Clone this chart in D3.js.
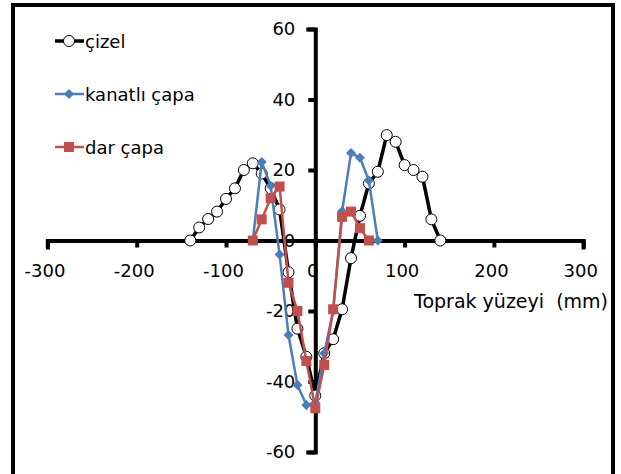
<!DOCTYPE html>
<html>
<head>
<meta charset="utf-8">
<script src="https://cdn.jsdelivr.net/npm/d3@7"></script>
<style>
  html, body { margin: 0; padding: 0; background: #fff; }
  svg { display: block; }
  text { font-family: "DejaVu Sans", sans-serif; fill: #000; }
</style>
</head>
<body>
<svg id="chart" width="621" height="474"></svg>
<script>
// Distance from centre line (mm) and soil surface profile (mm)
const xCizel = [-140, -130, -120, -110, -100, -90, -80, -70, -60, -50, -40, -30, -20, -10, 0, 10, 20, 30, 40, 50, 60, 70, 80, 90, 100, 110, 120, 130, 140];
const cizel  = [0, 3.7, 6.1, 8.2, 11.8, 14.8, 20, 21.9, 19, 14.8, 8.8, -9, -25, -33, -44, -32, -28, -19.5, -5, 7, 16.2, 19.5, 29.9, 28, 21.4, 20, 18.1, 6, 0];

const xKanatli = [-70, -60, -50, -40, -30, -20, -10, 0, 10, 20, 30, 40, 50, 60, 70];
const kanatli  = [0, 22.3, 15.5, -4, -26.8, -41, -46.7, -46, -32, -20, 8.3, 24.8, 23.5, 17, 0];

const xDar = [-70, -60, -50, -40, -30, -20, -10, 0, 10, 20, 30, 40, 50, 60];
const dar  = [0, 6, 12, 15.3, -12, -20, -34.2, -47.6, -35.3, -19.5, 6.7, 8.2, 3.5, 0];

const seriesNames = ["çizel", "kanatlı çapa", "dar çapa"];
const xTicks = [-300, -200, -100, 0, 100, 200, 300];
const yTicks = [-60, -40, -20, 0, 20, 40, 60];
const xTitle = "Toprak yüzeyi  (mm)";

const svg = d3.select("#chart");

// outer chart border (open at the bottom edge of the page)
svg.append("rect")
  .attr("x", 13).attr("y", 5)
  .attr("width", 600).attr("height", 490)
  .attr("fill", "none").attr("stroke", "#000").attr("stroke-width", 4);

const x = d3.scaleLinear().domain([-300, 300]).range([47.4, 583.2]);
const y = d3.scaleLinear().domain([-60, 60]).range([452, 29]);

// plain hyphen for negative numbers
const fmt = d => String(d);

// axes cross at the origin
const xAxis = d3.axisBottom(x).tickValues(xTicks).tickSize(7).tickSizeOuter(7).tickPadding(17).tickFormat(fmt);
const yAxis = d3.axisLeft(y).tickValues(yTicks).tickSize(7).tickSizeOuter(7).tickPadding(13).tickFormat(fmt);

function styleAxis(g) {
  g.select(".domain").attr("stroke", "#000").attr("stroke-width", 4).attr("stroke-linecap", "square");
  g.selectAll(".tick line").attr("stroke", "#000").attr("stroke-width", 4);
  g.selectAll(".tick text").style("font-size", "18px").attr("font-family", null).attr("fill", "#000");
}

const gx = svg.append("g").attr("transform", `translate(0,${y(0)})`).call(xAxis).call(styleAxis);
gx.selectAll(".tick text").attr("dx", "-3");
const gy = svg.append("g").attr("transform", `translate(${x(0)},0)`).call(yAxis).call(styleAxis);

svg.append("text")
  .attr("x", 608).attr("y", 308)
  .attr("text-anchor", "end")
  .style("font-size", "19px")
  .style("white-space", "pre")
  .text(xTitle);

const line = d3.line().x(d => x(d[0])).y(d => y(d[1]));

const series = [
  { name: seriesNames[0], pts: d3.zip(xCizel, cizel), color: "#000", width: 3.5, marker: "circle" },
  { name: seriesNames[1], pts: d3.zip(xKanatli, kanatli), color: "#4A7EBB", width: 2.5, marker: "diamond" },
  { name: seriesNames[2], pts: d3.zip(xDar, dar), color: "#C0504D", width: 2.5, marker: "square" }
];

function drawMarker(sel, s) {
  if (s.marker === "circle") {
    sel.append("circle").attr("r", 5.5).attr("fill", "#fff").attr("stroke", "#000").attr("stroke-width", 1);
  } else if (s.marker === "diamond") {
    sel.append("path").attr("d", d3.symbol(d3.symbolDiamond2, 64)()).attr("fill", s.color);
  } else {
    sel.append("rect").attr("x", -5).attr("y", -5).attr("width", 10).attr("height", 10).attr("fill", s.color);
  }
}

series.forEach(s => {
  const g = svg.append("g");
  g.append("path").datum(s.pts).attr("d", line)
    .attr("fill", "none").attr("stroke", s.color).attr("stroke-width", s.width)
    .attr("stroke-linejoin", "round");
  g.selectAll("g.pt").data(s.pts).join("g").attr("class", "pt")
    .attr("transform", d => `translate(${x(d[0])},${y(d[1])})`)
    .each(function () { drawMarker(d3.select(this), s); });
});

// legend
const legendY = [41, 94, 147];
series.forEach((s, i) => {
  const g = svg.append("g").attr("transform", `translate(0,${legendY[i]})`);
  g.append("line").attr("x1", 55).attr("x2", 84).attr("y1", 0).attr("y2", 0)
    .attr("stroke", s.color).attr("stroke-width", s.width);
  const m = g.append("g").attr("transform", "translate(69,0)");
  drawMarker(m, s);
  g.append("text").attr("x", 85).attr("y", 7).style("font-size", "18px").text(s.name);
});
</script>
</body>
</html>
